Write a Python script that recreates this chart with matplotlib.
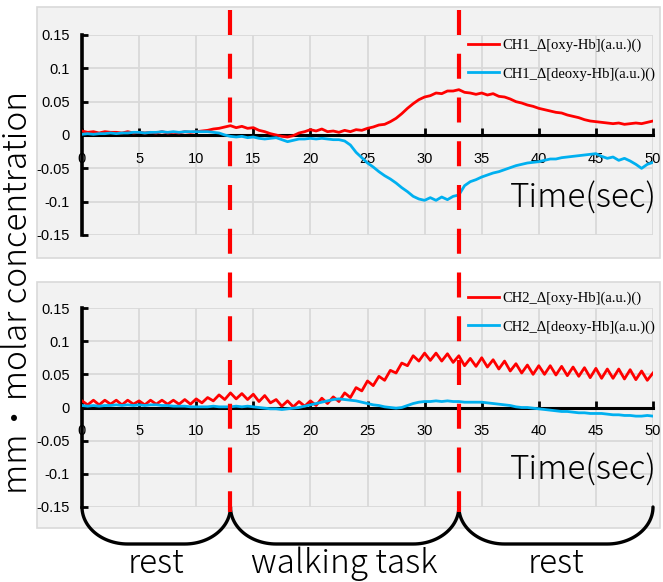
import numpy as np
import matplotlib
matplotlib.use("Agg")
import matplotlib.pyplot as plt
from matplotlib.lines import Line2D
from matplotlib.patches import Rectangle
from matplotlib.transforms import blended_transform_factory
from matplotlib.font_manager import FontProperties

# ---------------- data ----------------
time_sec = np.arange(0, 50.01, 0.5)

ch1_oxy = [
    0.006, 0.004, 0.005, 0.003, 0.005, 0.004, 0.004, 0.003, 0.005, 0.003, 0.004,
    0.003, 0.004, 0.003, 0.005, 0.003, 0.004, 0.003, 0.005, 0.004, 0.005,
    0.006, 0.007, 0.009, 0.010, 0.012, 0.014,
    0.011, 0.013, 0.010, 0.011, 0.007, 0.005, 0.002, 0.000,
    -0.002, -0.003, -0.001, 0.003, 0.005, 0.008,
    0.006, 0.009, 0.005, 0.006, 0.004, 0.007, 0.005, 0.008, 0.007, 0.010,
    0.012, 0.015, 0.016, 0.020, 0.025, 0.032, 0.040, 0.047, 0.053, 0.057,
    0.059, 0.063, 0.062, 0.066, 0.066, 0.068, 0.064, 0.063, 0.061, 0.063,
    0.060, 0.062, 0.058, 0.057, 0.054, 0.050, 0.048, 0.045, 0.043, 0.040,
    0.038, 0.036, 0.034, 0.033, 0.030, 0.028, 0.026, 0.023, 0.021, 0.020,
    0.019, 0.018, 0.017, 0.018, 0.016, 0.017, 0.018, 0.017, 0.019, 0.021,
]
ch1_deoxy = [
    0.001, 0.002, 0.001, 0.002, 0.002, 0.003, 0.002, 0.003, 0.003, 0.004, 0.004,
    0.003, 0.004, 0.004, 0.005, 0.004, 0.005, 0.004, 0.005, 0.005, 0.005,
    0.005, 0.005, 0.004, 0.003, 0.000, -0.002,
    -0.003, -0.002, -0.004, -0.003, -0.005, -0.006, -0.005, -0.004,
    -0.007, -0.010, -0.008, -0.006, -0.006, -0.005,
    -0.006, -0.005, -0.006, -0.007, -0.007, -0.009, -0.015, -0.026, -0.034, -0.042,
    -0.048, -0.055, -0.061, -0.066, -0.072, -0.079, -0.085, -0.092, -0.096, -0.098,
    -0.094, -0.098, -0.093, -0.097, -0.092, -0.090, -0.076, -0.070, -0.067, -0.063,
    -0.060, -0.057, -0.055, -0.052, -0.049, -0.046, -0.044, -0.042, -0.041, -0.040,
    -0.038, -0.036, -0.036, -0.034, -0.033, -0.032, -0.031, -0.030, -0.029, -0.028,
    -0.032, -0.035, -0.033, -0.038, -0.035, -0.039, -0.044, -0.050, -0.044, -0.041,
]
ch2_oxy = [
    0.010, 0.004, 0.011, 0.004, 0.011, 0.005, 0.011, 0.004, 0.011, 0.005, 0.010,
    0.004, 0.011, 0.005, 0.011, 0.005, 0.011, 0.005, 0.012, 0.005, 0.013,
    0.007, 0.015, 0.010, 0.019, 0.012, 0.022,
    0.013, 0.021, 0.012, 0.020, 0.009, 0.018, 0.007, 0.012,
    0.002, 0.010, 0.001, 0.009, 0.002, 0.010,
    0.003, 0.014, 0.006, 0.016, 0.009, 0.022, 0.015, 0.030, 0.025, 0.040,
    0.033, 0.047, 0.041, 0.056, 0.052, 0.067, 0.063, 0.078, 0.070, 0.082,
    0.071, 0.082, 0.070, 0.081, 0.068, 0.078, 0.063, 0.074, 0.062, 0.075,
    0.061, 0.072, 0.058, 0.070, 0.055, 0.066, 0.052, 0.064, 0.050, 0.063,
    0.050, 0.063, 0.049, 0.062, 0.048, 0.061, 0.047, 0.060, 0.045, 0.059,
    0.044, 0.058, 0.044, 0.058, 0.043, 0.057, 0.042, 0.055, 0.041, 0.052,
]
ch2_deoxy = [
    0.003, 0.002, 0.003, 0.002, 0.003, 0.003, 0.004, 0.003, 0.004, 0.003, 0.004,
    0.003, 0.004, 0.004, 0.003, 0.003, 0.002, 0.002, 0.002, 0.001, 0.001,
    0.001, 0.001, 0.002, 0.001, 0.001, 0.001,
    0.002, 0.001, 0.002, 0.001, 0.000, -0.001, -0.002, -0.002,
    -0.003, -0.002, -0.001, 0.000, 0.002, 0.004,
    0.006, 0.008, 0.010, 0.012, 0.013, 0.012, 0.011, 0.010, 0.008, 0.006,
    0.004, 0.003, 0.001, 0.000, -0.001, 0.000, 0.003, 0.006, 0.008, 0.009,
    0.009, 0.010, 0.009, 0.010, 0.009, 0.009, 0.008, 0.008, 0.008, 0.008,
    0.007, 0.006, 0.005, 0.004, 0.003, 0.001, 0.000, 0.000, -0.001, -0.002,
    -0.003, -0.004, -0.005, -0.006, -0.006, -0.007, -0.008, -0.008, -0.009, -0.009,
    -0.009, -0.010, -0.011, -0.011, -0.012, -0.012, -0.013, -0.013, -0.012, -0.013,
]

x_ticks = [0, 5, 10, 15, 20, 25, 30, 35, 40, 45, 50]
y_ticks = [-0.15, -0.1, -0.05, 0, 0.05, 0.1, 0.15]
y_ticklabels = ['-0.15', '-0.1', '-0.05', '0', '0.05', '0.1', '0.15']
phase_bounds = [0, 13, 33, 50]
phase_labels = ['rest', 'walking task', 'rest']
labels_ch1 = ['CH1_\u0394[oxy-Hb](a.u.)()', 'CH1_\u0394[deoxy-Hb](a.u.)()']
labels_ch2 = ['CH2_\u0394[oxy-Hb](a.u.)()', 'CH2_\u0394[deoxy-Hb](a.u.)()']

# ---------------- figure ----------------
W, H = 663, 582
fig = plt.figure(figsize=(W / 100, H / 100), dpi=100)
fig.patch.set_facecolor('white')

JP = ['Noto Sans CJK JP', 'DejaVu Sans']
NARROW = ['Liberation Sans Narrow', 'Liberation Sans', 'DejaVu Sans']

def px_rect(x0, y0, x1, y1):
    return [x0 / W, 1 - y1 / H, (x1 - x0) / W, (y1 - y0) / H]

# gray panels
for (x0, y0, x1, y1) in [(37, 7, 660, 258), (37, 282, 660, 528)]:
    r = Rectangle((x0 / W, 1 - y1 / H), (x1 - x0) / W, (y1 - y0) / H,
                  transform=fig.transFigure, facecolor='#f2f2f2',
                  edgecolor='#d9d9d9', linewidth=1.2, zorder=-5)
    fig.patches.append(r)

ax1 = fig.add_axes(px_rect(82, 35, 653, 235))
ax2 = fig.add_axes(px_rect(82, 308, 653, 507))

RED = '#ff0000'
BLUE = '#00b0f0'

def style(ax):
    ax.set_facecolor('none')
    ax.set_xlim(0, 50)
    ax.set_ylim(-0.15, 0.15)
    ax.set_xticks(x_ticks)
    ax.set_yticks(y_ticks)
    ax.set_yticklabels(y_ticklabels)
    ax.grid(True, color='#d9d9d9', linewidth=1.3, zorder=0)
    ax.set_axisbelow(True)
    for s in ['top', 'right']:
        ax.spines[s].set_visible(False)
    ax.spines['left'].set_position(('data', 0))
    ax.spines['left'].set_linewidth(2.6)
    ax.spines['bottom'].set_position(('data', 0))
    ax.spines['bottom'].set_linewidth(2.2)
    ax.spines['bottom'].set_zorder(1.5)
    ax.tick_params(axis='x', direction='in', length=5, width=2, pad=12,
                   labelsize=10.5)
    ax.tick_params(axis='y', direction='in', length=4, width=2, pad=9,
                   labelsize=10.5)
    for lab in ax.get_xticklabels() + ax.get_yticklabels():
        lab.set_family(NARROW)

for ax, (oxy, deoxy), labs, leg_top in [
        (ax1, (ch1_oxy, ch1_deoxy), labels_ch1, 39),
        (ax2, (ch2_oxy, ch2_deoxy), labels_ch2, 292)]:
    style(ax)
    l1, = ax.plot(time_sec, oxy, color=RED, linewidth=2.0, zorder=3, label=labs[0])
    l2, = ax.plot(time_sec, deoxy, color=BLUE, linewidth=2.0, zorder=3, label=labs[1])
    ax.legend(handles=[l1, l2], loc='upper left',
              bbox_to_anchor=(468 / W, 1 - leg_top / H),
              bbox_transform=fig.transFigure, frameon=False,
              prop=FontProperties(family='Liberation Serif', size=10.5),
              handlelength=2.1, handletextpad=0.25, labelspacing=1.0,
              borderpad=0, borderaxespad=0)

# Time(sec) labels
for base in (208, 480):
    fig.text(510 / W, 1 - base / H, 'Time(sec)', fontsize=24, family=JP,
             weight='light', ha='left', va='baseline')

# y label
fig.text(18 / W, 1 - 292 / H, 'mm\u30fbmolar concentration', fontsize=24,
         family=JP, weight='light', rotation=90, ha='center', va='center')

# red dashed phase boundaries spanning both panels
tr = blended_transform_factory(ax2.transData, fig.transFigure)
for xb in phase_bounds[1:-1]:
    ln = Line2D([xb, xb], [1 - 10 / H, 1 - 512 / H], transform=tr,
                color=RED, linewidth=3.0, zorder=10)
    ln.set_dashes([6, 4.5])
    fig.lines.append(ln)

# braces and phase labels
ytop, ybot = 1 - 507 / H, 1 - 544 / H
rx = 4.0
theta = np.linspace(0, np.pi / 2, 30)
for i, lab in enumerate(phase_labels):
    x0, x1 = phase_bounds[i], phase_bounds[i + 1]
    xl = x0 + rx * (1 - np.cos(theta))
    yl = ytop - (ytop - ybot) * np.sin(theta)
    xr = x1 - rx * (1 - np.cos(theta[::-1]))
    yr = ytop - (ytop - ybot) * np.sin(theta[::-1])
    xs = np.concatenate([xl, xr])
    ys = np.concatenate([yl, yr])
    fig.lines.append(Line2D(xs, ys, transform=tr, color='black',
                            linewidth=2.4, zorder=9, solid_capstyle='round'))
    fig.text((x0 + x1) / 2, 1 - 573 / H, lab, transform=tr, fontsize=24,
             family=JP, weight='light', ha='center', va='baseline')

fig.savefig('out.png', dpi=100)
